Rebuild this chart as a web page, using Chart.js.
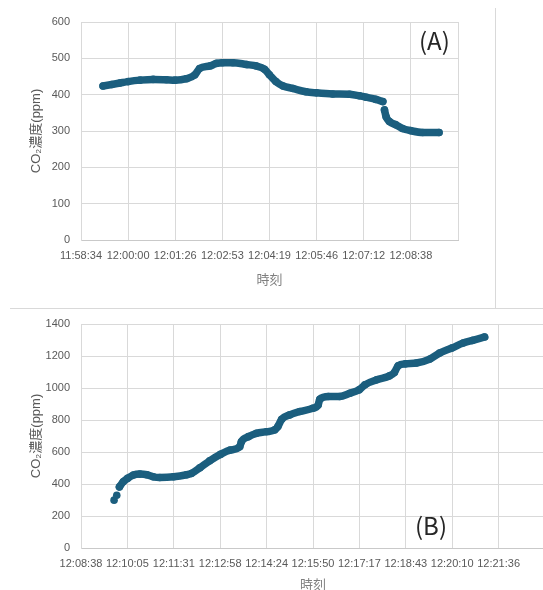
<!DOCTYPE html>
<html><head><meta charset="utf-8">
<script src="https://cdn.jsdelivr.net/npm/chart.js@4/dist/chart.umd.min.js"></script>
<style>
html,body{margin:0;padding:0;background:#fff;overflow:hidden;width:543px;height:590px;position:relative;}
#wrapA{position:absolute;left:0;top:0;width:495px;height:291px;}
#wrapB{position:absolute;left:0;top:300px;width:560px;height:296px;}
.frameV{position:absolute;left:495px;top:8px;width:0;height:301px;border-left:1.5px solid #d9d9d9;}
.frameH{position:absolute;left:10px;top:308px;width:533px;height:0;border-top:1.5px solid #d9d9d9;}
.tag{position:absolute;font-family:'Noto Sans CJK JP','Noto Sans',sans-serif;font-weight:400;font-size:24px;color:#262626;line-height:1;}
</style></head>
<body>
<div class="frameV"></div>
<div class="frameH"></div>
<div id="wrapA"><canvas id="chartA"></canvas></div>
<div id="wrapB"><canvas id="chartB"></canvas></div>
<div class="tag" style="left:419px;top:28px;">(A)</div>
<div class="tag" style="left:415px;top:513px;">(B)</div>
<script>
// ---- data (A) ----  null marks a visible break between measurements
const timesA = ["11:59:14","11:59:30","11:59:45","12:00:00","12:00:22","12:00:46","12:01:10","12:01:26","12:01:47","12:02:02","12:02:11","12:02:30","12:02:42","12:02:53","12:03:12","12:03:37","12:03:55","12:04:10","12:04:19","12:04:31","12:04:44","12:05:02","12:05:26","12:05:45","12:06:15","12:06:46","12:07:04","12:07:16","12:07:34","12:07:47","12:07:48","12:07:50","12:07:53","12:07:59","12:08:11","12:08:23","12:08:38","12:09:00","12:09:30"];
const co2A   = [424,428,432,436,440,442,441,440,444,454,472,479,486,488,488,483,479,470,455,436,424,417,408,405,402,401,397,393,387,381,null,358,339,326,317,307,301,296,296];
// ---- data (B) ----
const timesB = ["12:09:40","12:09:42","12:09:45","12:09:47","12:09:50","12:09:57","12:10:05","12:10:16","12:10:28","12:10:41","12:10:53","12:11:05","12:11:31","12:11:55","12:12:04","12:12:20","12:12:38","12:12:58","12:13:16","12:13:34","12:13:37","12:13:50","12:14:05","12:14:24","12:14:39","12:14:45","12:14:52","12:15:07","12:15:26","12:15:50","12:16:00","12:16:03","12:16:19","12:16:40","12:16:59","12:17:16","12:17:27","12:17:49","12:18:13","12:18:22","12:18:29","12:18:43","12:19:03","12:19:28","12:19:46","12:20:09","12:20:30","12:20:48","12:21:10"];
const co2B   = [299,null,330,null,382,414,435,456,462,458,445,441,445,458,466,502,545,585,612,633,664,696,717,727,738,759,804,832,853,873,894,930,947,947,967,988,1020,1051,1076,1097,1139,1151,1156,1181,1218,1250,1281,1298,1319];
// axis ticks in units of 0.001 day (86.4 s), as Excel
const xTicksA = [499,500,501,502,503,504,505,506,507];
const xTicksB = [506,507,508,509,510,511,512,513,514,515,516];
const yTicksA = [0,100,200,300,400,500,600];
const yTicksB = [0,200,400,600,800,1000,1200,1400];

const UNIT = 86.4;
function toUnit(t){const p=t.split(':').map(Number);return (p[0]*3600+p[1]*60+p[2])/UNIT;}
function fmt(u){let s=Math.round(u*UNIT);const h=Math.floor(s/3600);s-=h*3600;const m=Math.floor(s/60);s-=m*60;return h+':'+String(m).padStart(2,'0')+':'+String(s).padStart(2,'0');}

const COLOR = '#1b5e7e';
const tickFont = {family:"'Liberation Sans', Arial, sans-serif", size:11};
const titleFontY = {family:"'Liberation Sans','Noto Sans CJK JP', sans-serif", size:13};
const titleFontX = {family:"'Noto Sans CJK JP', sans-serif", size:13};

function makeChart(id, times, vals, xTicks, lastLabeled, yTicks, pad, xAxisH){
  const pts = times.map((t,i)=>({x:toUnit(t), y:vals[i]}));
  new Chart(document.getElementById(id), {
    type:'scatter',
    data:{datasets:[{data:pts, showLine:true, spanGaps:false, borderColor:COLOR, backgroundColor:COLOR,
      borderWidth:7.5, borderCapStyle:'round', borderJoinStyle:'round', cubicInterpolationMode:'monotone',
      pointRadius:3.8, pointBorderWidth:0, pointHoverRadius:3.8}]},
    options:{
      responsive:true, maintainAspectRatio:false, animation:false, devicePixelRatio:1,
      layout:{padding:pad},
      plugins:{legend:{display:false}, tooltip:{enabled:false}},
      scales:{
        x:{type:'linear', min:xTicks[0], max:xTicks[xTicks.length-1],
          afterBuildTicks:(s)=>{s.ticks = xTicks.map(v=>({value:v}));},
          afterFit:(s)=>{s.height = xAxisH;},
          ticks:{autoSkip:false, maxRotation:0, padding:9, font:tickFont, color:'#595959',
            callback:(v)=> v>lastLabeled ? '' : fmt(v)},
          grid:{color:'#d9d9d9', lineWidth:1, drawTicks:false},
          border:{color:'#c9c9c9', width:1},
          title:{display:true, text:'時刻', font:titleFontX, color:'#7f7f7f', padding:{top:4,bottom:4}}
        },
        y:{min:yTicks[0], max:yTicks[yTicks.length-1],
          afterBuildTicks:(s)=>{s.ticks = yTicks.map(v=>({value:v}));},
          afterFit:(s)=>{s.width = 81 - pad.left;},
          ticks:{padding:11, font:tickFont, color:'#595959', callback:(v)=>String(v)},
          grid:{color:'#d9d9d9', lineWidth:1, drawTicks:false},
          border:{color:'#d9d9d9', width:1},
          title:{display:true, text:'CO₂濃度(ppm)', font:titleFontY, color:'#595959', padding:{top:4,bottom:4}}
        }
      }
    }
  });
}
makeChart('chartA', timesA, co2A, xTicksA, 506, yTicksA, {left:25, top:22, right:37, bottom:0}, 51);
makeChart('chartB', timesB, co2B, xTicksB, 515, yTicksB, {left:25, top:24, right:15, bottom:0}, 48);
</script>
</body></html>
